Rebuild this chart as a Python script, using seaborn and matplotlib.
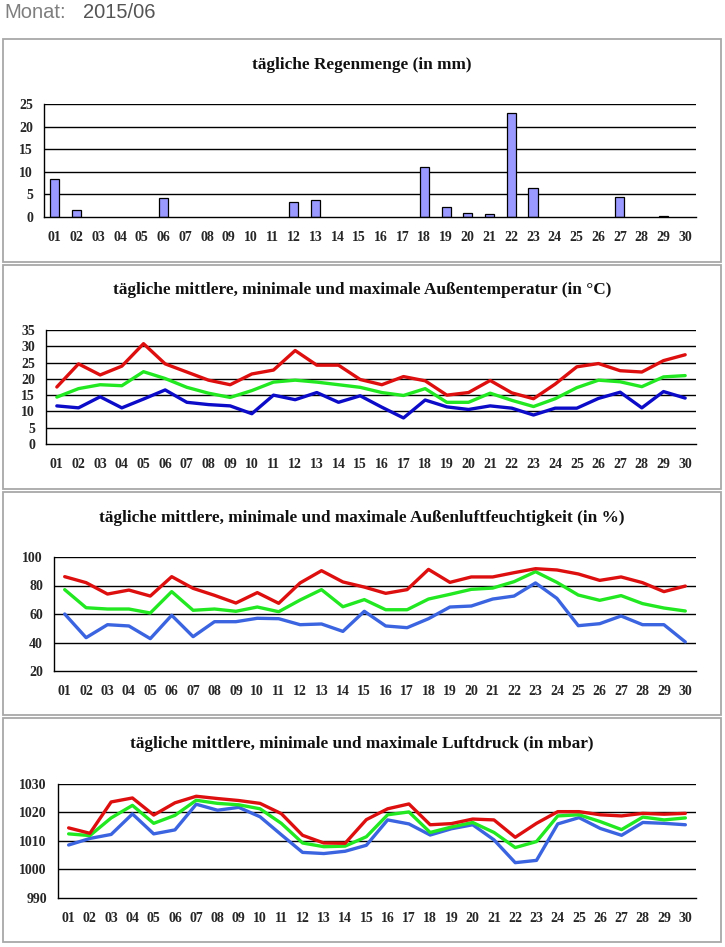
import numpy as np
import pandas as pd
import matplotlib.pyplot as plt
from matplotlib.patches import Rectangle
import seaborn as sns

days = ["%02d" % d for d in range(1, 31)]

regen = [8.3, 1.5, 0, 0, 0, 4.3, 0, 0, 0, 0, 0, 3.3, 3.7, 0, 0, 0, 0, 11.1, 2.2, 0.9,
         0.7, 23.0, 6.4, 0, 0, 0, 4.4, 0, 0.2, 0]

temp_max = [17.5, 24.6, 21.2, 23.9, 30.8, 24.6, 22.1, 19.6, 18.2, 21.5, 22.7, 28.7, 24.2, 24.2, 19.8,
            18.2, 20.7, 19.4, 15.0, 15.8, 19.5, 15.7, 13.9, 18.4, 23.7, 24.7, 22.5, 22.1, 25.6, 27.4]
temp_mit = [14.4, 17.0, 18.2, 17.9, 22.2, 20.1, 17.4, 15.6, 14.3, 16.4, 19.0, 19.6, 19.0, 18.2, 17.4,
            15.8, 14.9, 17.0, 12.8, 12.8, 15.6, 13.4, 11.5, 13.9, 17.3, 19.6, 19.1, 17.6, 20.6, 21.0]
temp_min = [11.7, 11.1, 14.5, 11.1, 13.8, 16.6, 12.8, 12.1, 11.7, 9.3, 15.0, 13.6, 15.8, 12.8, 14.8,
            11.3, 8.0, 13.5, 11.4, 10.6, 11.7, 11.0, 8.9, 11.0, 11.0, 14.0, 15.9, 11.1, 16.1, 14.1]

feucht_max = [86.2, 82.0, 74.0, 76.8, 72.6, 86.2, 78.0, 73.1, 67.7, 75.0, 67.5, 81.8, 90.4, 82.5, 78.9,
              74.5, 77.1, 91.3, 82.2, 86.0, 86.0, 89.0, 91.8, 90.9, 88.1, 83.6, 86.0, 82.0, 75.7, 79.6]
feucht_mit = [77.1, 64.4, 63.5, 63.5, 60.7, 75.7, 62.6, 63.5, 61.9, 64.9, 61.6, 69.8, 77.1, 65.1, 70.1,
              63.0, 63.0, 70.5, 73.8, 77.3, 78.2, 82.7, 89.7, 82.2, 73.3, 69.6, 72.9, 67.3, 64.2, 62.1]
feucht_min = [60.0, 43.4, 52.5, 51.6, 42.7, 59.1, 44.1, 54.6, 54.6, 57.0, 56.7, 52.5, 53.0, 47.8, 61.9,
              51.6, 50.4, 56.7, 64.9, 65.6, 70.5, 72.6, 81.8, 71.0, 51.8, 53.2, 58.6, 52.5, 52.5, 40.4]

druck_max = [1014.6, 1012.7, 1023.7, 1025.1, 1019.1, 1023.4, 1025.7, 1024.9, 1024.2, 1023.2,
             1019.6, 1012.0, 1009.3, 1009.2, 1017.5, 1021.3, 1023.0, 1015.7, 1016.1, 1017.7,
             1017.4, 1011.3, 1016.2, 1020.3, 1020.3, 1019.2, 1018.8, 1019.7, 1019.4, 1019.7]
druck_mit = [1012.5, 1011.9, 1018.1, 1022.5, 1016.2, 1019.0, 1024.3, 1023.2, 1022.7, 1021.3,
             1016.2, 1009.3, 1008.0, 1008.2, 1011.5, 1019.2, 1020.2, 1013.0, 1014.9, 1016.5,
             1013.0, 1007.7, 1009.8, 1018.8, 1019.2, 1016.8, 1014.0, 1018.4, 1017.4, 1018.1]
druck_min = [1008.6, 1010.9, 1012.3, 1019.5, 1012.5, 1013.9, 1022.9, 1020.8, 1021.8, 1018.5,
             1012.2, 1006.0, 1005.6, 1006.4, 1008.5, 1017.4, 1016.0, 1012.1, 1014.3, 1015.7,
             1010.4, 1002.4, 1003.2, 1016.0, 1018.2, 1014.4, 1012.0, 1016.5, 1016.2, 1015.7]

sns.set_style("white")
plt.rcParams["font.family"] = ["Liberation Serif", "DejaVu Serif"]
plt.rcParams["font.weight"] = "bold"

W, H = 725, 947
fig = plt.figure(figsize=(W / 100, H / 100), dpi=100)


def px_axes(l, t, r, b):
    return fig.add_axes([l / W, 1 - b / H, (r - l) / W, (b - t) / H])


def panel_box(t, b, title, ty):
    fig.patches.append(Rectangle((3 / W, 1 - b / H), 718 / W, (b - t) / H, transform=fig.transFigure,
                                 fill=False, edgecolor="#a8a8a8", linewidth=1.3))
    fig.text(362 / W, 1 - ty / H, title, ha="center", va="center", fontsize=12.4, fontweight="bold",
             color="#111111")


def style_axes(ax, ylim, yticks):
    ax.set_xlim(-0.5, 29.5)
    ax.set_ylim(*ylim)
    ax.set_yticks(yticks)
    ax.set_xticks(range(30))
    ax.set_xticklabels(days)
    ax.set_xticks(np.arange(-0.5, 30, 1), minor=True)
    ax.tick_params(axis="x", which="major", length=0, pad=10, labelsize=10)
    ax.tick_params(axis="x", which="minor", length=5, width=1, color="black", direction="out")
    ax.tick_params(axis="y", length=4, width=1, color="black", pad=4, labelsize=10, direction="out")
    ax.set_xlabel("")
    ax.set_ylabel("")
    for s in ["top", "right"]:
        ax.spines[s].set_visible(False)
    for s in ["left", "bottom"]:
        ax.spines[s].set_color("black")
        ax.spines[s].set_linewidth(1)
    for y in yticks[1:]:
        ax.axhline(y, color="black", lw=1, zorder=0)
    ax.set_facecolor("white")


def line_panel(ax, vmax, vmit, vmin, colors):
    df = pd.DataFrame({
        "pos": list(range(30)) * 3,
        "wert": vmin + vmit + vmax,
        "reihe": ["min"] * 30 + ["mittel"] * 30 + ["max"] * 30,
    })
    sns.lineplot(data=df, x="pos", y="wert", hue="reihe", palette=colors, linewidth=2.4,
                 legend=False, ax=ax, zorder=3)


fig.text(4 / W, 1 - 12 / H, "Monat:", ha="left", va="center", fontsize=14.5, color="#7f7f7f",
         family="Liberation Sans", fontweight="normal")
fig.text(83 / W, 1 - 12 / H, "2015/06", ha="left", va="center", fontsize=14.5, color="#555555",
         family="Liberation Sans", fontweight="normal")

# Regen
panel_box(39, 262, "tägliche Regenmenge (in mm)", 65)
ax1 = px_axes(44, 104, 696, 217)
sns.barplot(x=list(range(30)), y=regen, color="#9999ff", edgecolor="black", linewidth=0.9,
            width=0.42, saturation=1, ax=ax1, native_scale=True)
for p in ax1.patches:
    if p.get_height() == 0:
        p.set_visible(False)
style_axes(ax1, (0, 25), [0, 5, 10, 15, 20, 25])

# Temperatur
panel_box(265, 489, "tägliche mittlere, minimale und maximale Außentemperatur (in °C)", 290)
ax2 = px_axes(46, 330, 696, 444)
line_panel(ax2, temp_max, temp_mit, temp_min, {"max": "#dd0f0f", "mittel": "#22e822", "min": "#0b0bc8"})
style_axes(ax2, (0, 35), [0, 5, 10, 15, 20, 25, 30, 35])

# Feuchtigkeit
panel_box(492, 715, "tägliche mittlere, minimale und maximale Außenluftfeuchtigkeit (in %)", 518)
ax3 = px_axes(54, 557, 696, 671)
line_panel(ax3, feucht_max, feucht_mit, feucht_min, {"max": "#dd0f0f", "mittel": "#22e822", "min": "#3a64e0"})
style_axes(ax3, (20, 100), [20, 40, 60, 80, 100])

# Luftdruck
panel_box(718, 942, "tägliche mittlere, minimale und maximale Luftdruck (in mbar)", 744)
ax4 = px_axes(58, 784, 696, 898)
line_panel(ax4, druck_max, druck_mit, druck_min, {"max": "#dd0f0f", "mittel": "#22e822", "min": "#3a64e0"})
style_axes(ax4, (990, 1030), [990, 1000, 1010, 1020, 1030])

plt.savefig("out.png", dpi=100)
